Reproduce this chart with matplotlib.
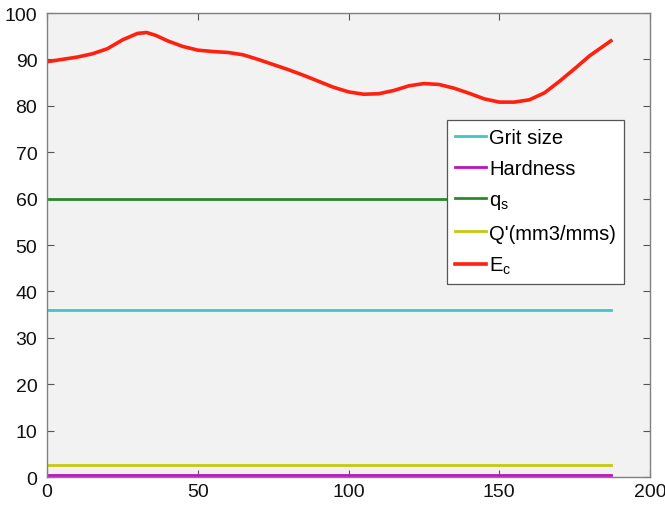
import numpy as np
import matplotlib
matplotlib.use('Agg')
import matplotlib.pyplot as plt

plt.rcParams['font.family'] = ['Liberation Sans', 'DejaVu Sans']
plt.rcParams['mathtext.default'] = 'regular'

# flat inputs
n_points = 188
grit_size = 36.0
hardness = 0.4
q_s = 60.0
q_rate = 2.65

# E_c curve
ec_x = [0, 5, 10, 15, 20, 25, 30, 33, 36, 40, 45, 50, 55, 60, 65, 70, 75, 80, 85,
        90, 95, 100, 105, 110, 115, 120, 125, 130, 135, 140, 145, 150, 155, 160,
        165, 170, 175, 180, 187]
ec_y = [89.5, 90.0, 90.5, 91.2, 92.3, 94.2, 95.6, 95.8, 95.2, 94.0, 92.8, 92.0,
        91.7, 91.5, 91.0, 90.0, 88.9, 87.8, 86.6, 85.3, 84.0, 83.0, 82.5, 82.6,
        83.3, 84.3, 84.8, 84.6, 83.8, 82.7, 81.5, 80.8, 80.8, 81.3, 82.8, 85.3,
        88.0, 90.8, 94.0]

x = np.arange(n_points)

fig = plt.figure(figsize=(6.65, 5.06), dpi=100)
ax = fig.add_axes([0.0707, 0.0553, 0.9068, 0.9170])
ax.set_facecolor('#f2f2f2')

ax.plot(x, np.full(n_points, grit_size), color='#3cc8c8', lw=2.0, label='Grit size')
ax.plot(x, np.full(n_points, hardness), color='#c010c0', lw=2.0, label='Hardness')
ax.plot(x, np.full(n_points, q_s), color='#2a8a2a', lw=2.0, label='$q_s$')
ax.plot(x, np.full(n_points, q_rate), color='#c8c810', lw=2.0, label="Q'(mm3/mms)")
ax.plot(ec_x, ec_y, color='#ff2010', lw=2.6, label='$E_c$')

ax.set_xlim(0, 200)
ax.set_ylim(0, 100)
ax.set_xticks(range(0, 201, 50))
ax.set_yticks(range(0, 101, 10))
ax.tick_params(direction='in', top=True, right=True, length=5, width=0.8,
               color='#555555', labelsize=14, labelcolor='#111111')
ax.tick_params(axis='y', pad=7)
ax.tick_params(axis='x', pad=4)
for s in ax.spines.values():
    s.set_color('#808080')
    s.set_linewidth(1.0)

leg = ax.legend(loc='upper left', bbox_to_anchor=(0.663, 0.769), borderaxespad=0,
                fontsize=14.5, handlelength=1.55, handletextpad=0.15,
                labelspacing=0.6, borderpad=0.4, fancybox=False,
                framealpha=1, edgecolor='#555555')
leg.get_frame().set_linewidth(0.9)

fig.savefig('out.png', dpi=100)
